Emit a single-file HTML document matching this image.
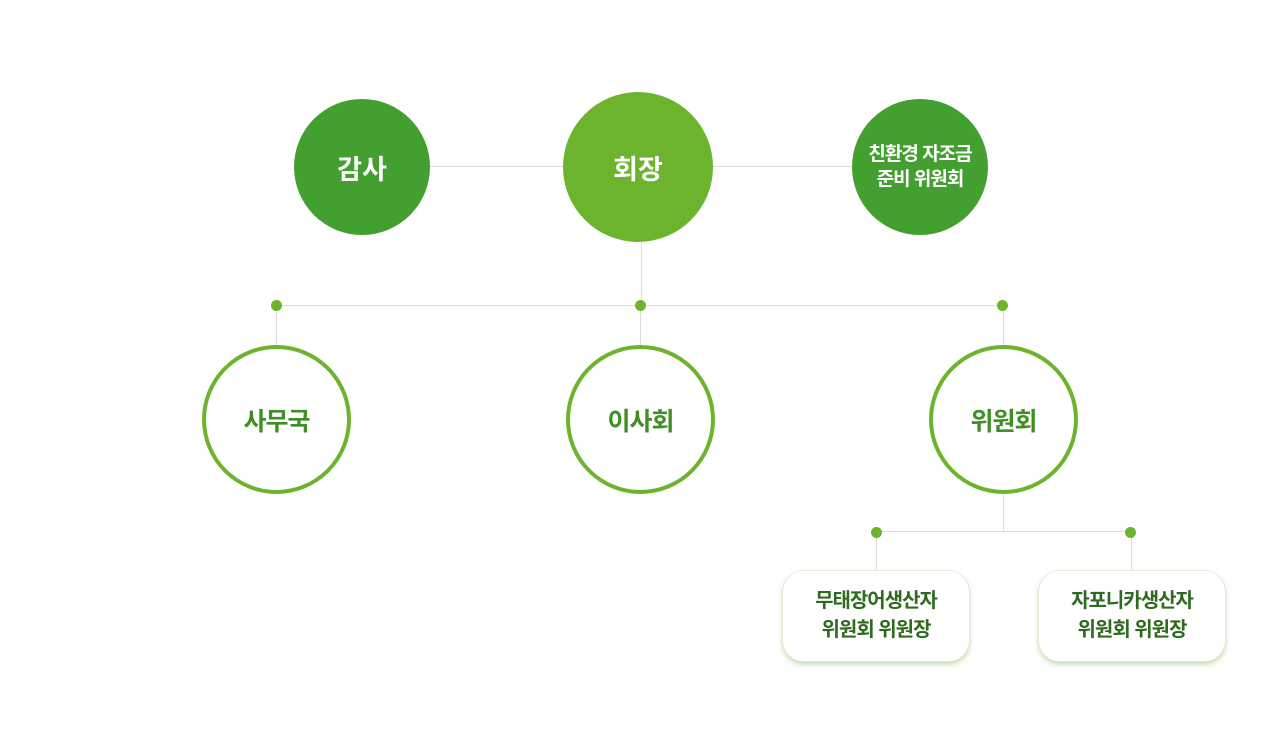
<!DOCTYPE html>
<html><head><meta charset="utf-8"><style>
body{margin:0;width:1280px;height:749px;background:#fff;position:relative;overflow:hidden;font-family:"Liberation Sans","Noto Sans CJK KR",sans-serif}
.l{position:absolute;background:#dcdcdc}
.c{position:absolute;border-radius:50%;display:flex;align-items:center;justify-content:center;text-align:center;font-weight:bold;box-sizing:border-box}
.f{color:#fff}
.o{border:4px solid #6db42e;background:#fff;color:#3f8f25;font-size:25px;letter-spacing:-1px}
.d{position:absolute;width:11px;height:11px;border-radius:50%;background:#6db42e}
.b{position:absolute;width:188px;height:92px;border:1px solid #e2ecd6;border-radius:22px;background:#fff;box-shadow:0 3px 5px rgba(110,160,60,0.35);display:flex;align-items:center;justify-content:center;text-align:center;color:#2f6b1e;font-size:20px;font-weight:bold;line-height:29px;box-sizing:border-box;letter-spacing:-1px}
</style></head><body>
<div class="l" style="left:430px;top:166px;width:422px;height:1px"></div>
<div class="l" style="left:641px;top:240px;width:1px;height:65px"></div>
<div class="l" style="left:276px;top:305px;width:727px;height:1px"></div>
<div class="l" style="left:276px;top:305px;width:1px;height:42px"></div>
<div class="l" style="left:640px;top:305px;width:1px;height:42px"></div>
<div class="l" style="left:1003px;top:305px;width:1px;height:42px"></div>
<div class="l" style="left:1003px;top:490px;width:1px;height:41px"></div>
<div class="l" style="left:876px;top:531px;width:255px;height:1px"></div>
<div class="l" style="left:876px;top:531px;width:1px;height:40px"></div>
<div class="l" style="left:1131px;top:531px;width:1px;height:40px"></div>
<div class="c f" style="left:294px;top:99px;width:136px;height:136px;background:#43a030;font-size:27px">감사</div>
<div class="c f" style="left:563px;top:92px;width:150px;height:150px;background:#6db42e;font-size:27px">회장</div>
<div class="c f" style="left:852px;top:99px;width:136px;height:136px;background:#43a030;font-size:19px;line-height:25px;letter-spacing:-1px">친환경 자조금<br>준비 위원회</div>
<div class="d" style="left:271px;top:300px"></div>
<div class="d" style="left:635px;top:300px"></div>
<div class="d" style="left:997px;top:300px"></div>
<div class="d" style="left:871px;top:527px"></div>
<div class="d" style="left:1125px;top:527px"></div>
<div class="c o" style="left:202px;top:345px;width:149px;height:149px">사무국</div>
<div class="c o" style="left:566px;top:345px;width:149px;height:149px">이사회</div>
<div class="c o" style="left:929px;top:345px;width:149px;height:149px">위원회</div>
<div class="b" style="left:782px;top:570px">무태장어생산자<br>위원회 위원장</div>
<div class="b" style="left:1038px;top:570px">자포니카생산자<br>위원회 위원장</div>
</body></html>
